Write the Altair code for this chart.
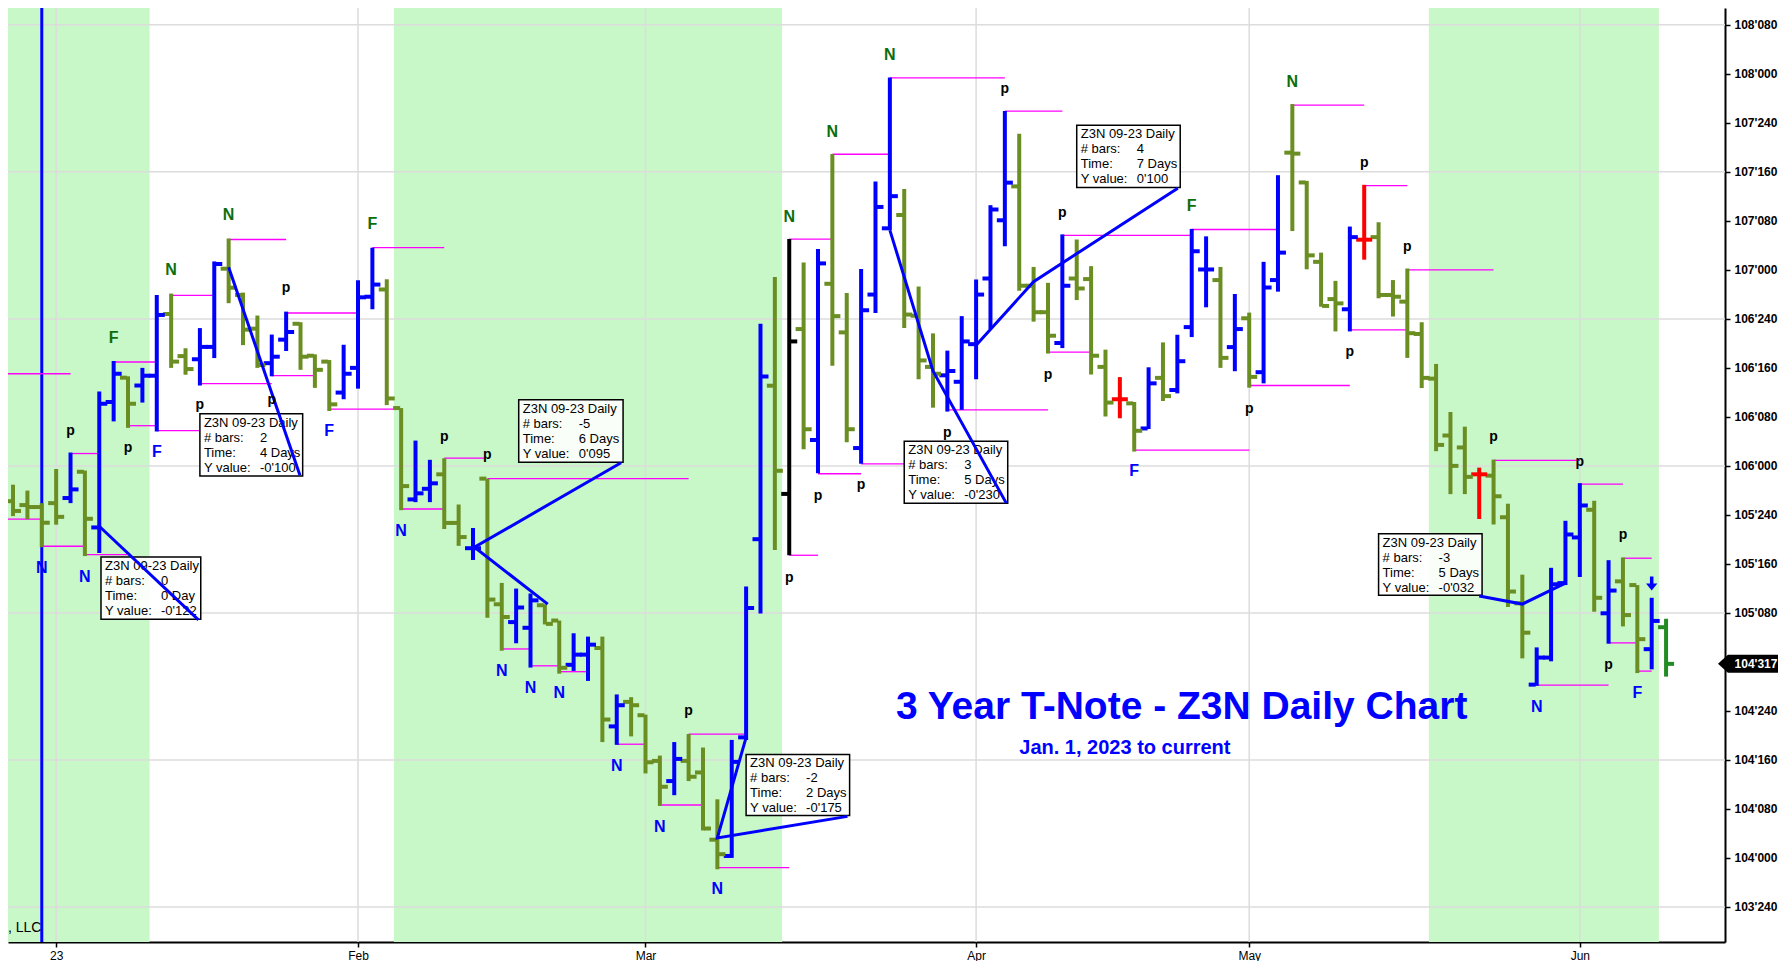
import altair as alt
import pandas as pd

# ---------------- data ----------------
opens = [105.82, 105.80, 105.79, 105.81, 105.836, 105.97, 105.686, 106.326, 106.45, 106.41,
         106.46, 106.775, 106.56, 106.544, 106.607, 107.006, 106.872, 106.70, 106.524, 106.644,
         106.725, 106.562, 106.532, 106.374, 106.5, 106.863, 106.9, 106.295, 105.829, 105.883,
         105.957, 105.709, 105.58, 105.935, 105.294, 105.203, 105.174, 105.289, 105.211, 104.985,
         105.037, 105.071, 104.671, 104.796, 104.728, 104.495, 104.392, 104.495, 104.436, 104.093,
         104.01, 104.615, 105.626, 106.409, 105.857, 106.698, 106.132, 106.929, 106.681, 106.091,
         106.874, 107.212, 107.28, 106.766, 106.505, 106.462, 106.429, 106.621, 106.956, 107.253,
         107.426, 106.919, 106.784, 106.627, 106.956, 106.953, 106.505, 106.34, 106.319, 106.191,
         106.449, 106.387, 106.708, 107.002, 106.948, 106.606, 106.753, 106.478, 106.948, 107.598,
         107.446, 107.041, 106.851, 106.799, 107.154, 107.167, 106.872, 106.838, 106.673, 106.445,
         106.155, 106.094, 105.957, 105.95, 105.738, 105.299, 104.884, 105.022, 105.402, 105.635,
         105.776, 105.248, 105.411, 105.392, 105.065, 105.177]
highs = [105.904, 105.874, 105.81, 105.984, 106.068, 105.976, 106.38, 106.535, 106.457, 106.50,
         106.872, 106.879, 106.6, 106.703, 107.043, 107.16, 106.884, 106.767, 106.67, 106.787,
         106.733, 106.569, 106.54, 106.618, 106.947, 107.113, 106.952, 106.295, 106.129, 106.031,
         106.039, 105.803, 105.683, 105.935, 105.403, 105.374, 105.349, 105.294, 105.211, 105.146,
         105.129, 105.129, 104.834, 104.82, 104.731, 104.522, 104.591, 104.632, 104.563, 104.299,
         104.602, 105.385, 106.725, 106.964, 107.157, 107.038, 107.107, 107.591, 106.882, 107.005,
         107.451, 107.981, 107.412, 106.915, 106.676, 106.588, 106.764, 106.951, 107.33, 107.81,
         107.694, 107.015, 106.934, 107.181, 107.155, 107.019, 106.593, 106.453, 106.326, 106.503,
         106.63, 106.669, 107.209, 107.171, 107.015, 106.877, 106.782, 107.041, 107.483, 107.846,
         107.454, 107.088, 106.944, 107.221, 107.434, 107.243, 106.948, 107.007, 106.733, 106.52,
         106.275, 106.2, 105.991, 106.032, 105.807, 105.445, 105.074, 105.48, 105.72, 105.912,
         105.822, 105.519, 105.533, 105.392, 105.327, 105.22]
lows = [105.744, 105.728, 105.585, 105.70, 105.81, 105.54, 105.555, 106.227, 106.194, 106.323,
        106.175, 106.50, 106.465, 106.41, 106.55, 106.83, 106.616, 106.50, 106.457, 106.586,
        106.49, 106.398, 106.28, 106.34, 106.394, 106.799, 106.31, 105.774, 105.815, 105.815,
        105.678, 105.592, 105.52, 105.225, 105.057, 105.095, 104.971, 105.191, 104.94, 104.954,
        104.903, 104.591, 104.577, 104.62, 104.431, 104.265, 104.32, 104.392, 104.14, 103.942,
        104.0, 104.602, 105.247, 105.571, 105.544, 106.085, 105.962, 106.511, 106.121, 106.011,
        106.78, 107.203, 106.703, 106.442, 106.297, 106.277, 106.286, 106.442, 106.698, 107.121,
        106.894, 106.736, 106.573, 106.601, 106.846, 106.466, 106.252, 106.243, 106.073, 106.188,
        106.331, 106.37, 106.657, 106.809, 106.5, 106.483, 106.399, 106.421, 106.889, 107.198,
        107.003, 106.812, 106.686, 106.686, 107.052, 106.855, 106.762, 106.551, 106.397, 106.075,
        105.856, 105.856, 105.729, 105.701, 105.28, 105.018, 104.878, 105.003, 105.392, 105.433,
        105.256, 105.093, 105.181, 104.943, 104.962, 104.925]
closes = [105.77, 105.79, 105.71, 105.74, 105.88, 105.73, 106.317, 106.47, 106.317, 106.46,
          106.77, 106.532, 106.494, 106.607, 107.03, 106.909, 106.695, 106.515, 106.557, 106.683,
          106.557, 106.49, 106.314, 106.47, 106.86, 106.925, 106.344, 105.897, 105.86, 105.911,
          105.709, 105.637, 105.58, 105.318, 105.229, 105.277, 105.314, 105.194, 104.97, 105.037,
          105.088, 104.706, 104.779, 104.779, 104.488, 104.363, 104.505, 104.414, 104.15, 104.019,
          104.49, 105.275, 106.456, 105.975, 106.635, 106.187, 107.033, 106.764, 106.187, 106.794,
          107.321, 107.376, 106.772, 106.538, 106.47, 106.484, 106.635, 106.874, 107.308, 107.445,
          106.919, 106.784, 106.664, 106.919, 106.905, 106.562, 106.323, 106.34, 106.179, 106.421,
          106.356, 106.534, 107.095, 107.002, 106.551, 106.698, 106.454, 106.91, 107.088, 107.593,
          107.074, 106.816, 106.829, 107.167, 107.154, 106.872, 106.863, 106.677, 106.449, 106.107,
          106.0, 105.944, 105.957, 105.845, 105.359, 105.149, 105.022, 105.396, 105.65, 105.798,
          105.327, 105.364, 105.239, 105.116, 105.209, 104.99]
# bar kind: U up, D down, R doji (red), K key bar (black), L last bar
kind_codes = list("DDDDUDUUDU" "UDDUUDDDUU" "DDDUUUDDUU" "DDUDDUUDDU" "UDUDDDUDDD"
                  "UUUDKDUDDU" "UUDDDUUUUU" "DDDUDDDRDU" "DUUUDUDUUD" "DDDURDDDDD"
                  "DDRDDDUUUU" "DUDDUL")

# month tick positions (bar index) and labels
month_ticks = [3, 24, 44, 67, 86, 109]
month_labels = ["23", "Feb", "Mar", "Apr", "May", "Jun"]

# shaded time windows (bar index ranges)
band_start = [-0.35, 26.5, 98.5]
band_end = [9.5, 53.5, 114.5]

# price levels for horizontal grid and axis ticks
grid_levels = [103.75, 104.5, 105.25, 106.0, 106.75, 107.5, 108.25]
tick_levels = [103.75, 104.0, 104.25, 104.5, 104.75, 105.25, 105.5, 105.75, 106.0,
               106.25, 106.5, 106.75, 107.0, 107.25, 107.5, 107.75, 108.0, 108.25]

cursor_bar = [2]

# magenta level lines: start bar, end bar, price
mag_i1 = [-0.35, -0.35, 2, 5, 4, 7, 8, 10, 11, 15, 13, 18, 19, 22, 25, 27, 30, 33, 34, 36,
          38, 42, 45, 47, 49, 54, 54, 56, 59, 57, 61, 65, 69, 73, 72, 78, 82, 86, 89, 94,
          93, 97, 103, 109, 112, 111, 113, 106]
mag_i2 = [4, 2, 5, 8, 6, 10, 10, 13, 14, 19, 18, 21, 24, 27, 30, 30, 32.8, 47, 36, 38,
          40, 44, 48, 51, 54, 57, 56, 59, 62, 61, 69, 72, 73, 82, 75, 86, 88, 93, 94, 97,
          97, 103, 109, 112, 114, 113, 114, 111]
mag_p = [106.47, 105.728, 105.59, 105.547, 106.063, 106.53, 106.205, 106.18, 106.87, 107.155,
         106.42, 106.46, 106.78, 106.29, 107.113, 105.78, 106.04, 105.935, 105.066, 104.98,
         104.95, 104.58, 104.27, 104.632, 103.95, 107.157, 105.544, 105.96, 106.01, 107.59,
         107.98, 106.286, 107.81, 107.176, 106.58, 106.08, 107.206, 106.41, 107.84, 107.43,
         106.694, 107.0, 106.028, 105.907, 105.529, 105.097, 104.953, 104.882]

# measurement lines (id, bar, price)
line_id = [1, 1, 2, 2, 3, 3, 3, 4, 4, 4, 5, 5, 5, 6, 6, 6, 7, 7, 7]
line_i = [6, 12.9, 15, 19.96, 42.3, 32.1, 37.2, 51, 49, 58.05, 61, 64, 69.1,
          67, 71, 81.03, 102.0, 105, 108]
line_p = [105.692, 105.214, 107.013, 105.952, 106.016, 105.585, 105.295, 104.615, 104.102,
          104.212, 107.203, 106.484, 105.81, 106.615, 106.94, 107.417, 105.336, 105.295, 105.402]

# measurement boxes
box_i1 = [6.12, 13.0, 35.18, 51.0, 62.0, 74.0, 95.0]
box_i2 = [13.06, 20.15, 42.44, 58.2, 69.2, 81.2, 102.2]
box_top = [105.535, 106.266, 106.338, 104.528, 106.126, 107.738, 105.654]
box_bot = [105.218, 105.948, 106.018, 104.217, 105.81, 107.42, 105.34]
box_bars = ["0", "2", "-5", "-2", "3", "4", "-3"]
box_time = ["0 Day", "4 Days", "6 Days", "2 Days", "5 Days", "7 Days", "5 Days"]
box_yval = ["-0'122", "-0'100", "0'095", "-0'175", "-0'230", "0'100", "-0'032"]

# pivot labels: bar, price, text, kind (hi = above high, lo = below low, piv = pivot)
lab_i = [2, 5, 4, 7, 8, 10, 11, 13, 15, 19, 18, 22, 25, 27, 30, 33, 34, 36, 38, 42,
         47, 45, 49, 54, 54, 57, 56, 59, 61, 65, 69, 73, 72, 78, 82, 86, 89, 94, 93, 97,
         103, 109, 106, 112, 111, 113]
lab_p = [105.479, 105.433, 106.176, 106.654, 106.09, 106.072, 107.0, 106.309, 107.282, 106.908,
         106.338, 106.176, 107.236, 105.67, 106.147, 106.055, 104.955, 104.869, 104.84, 104.471,
         104.748, 104.16, 103.843, 107.27, 105.427, 107.703, 105.848, 105.9, 108.094, 106.17,
         107.922, 107.288, 106.464, 105.975, 107.328, 106.291, 107.956, 107.547, 106.58, 107.115,
         106.147, 106.021, 104.771, 105.646, 104.984, 104.84]
lab_t = ["N", "N", "p", "F", "p", "F", "N", "p", "N", "p", "p", "F", "F", "N", "p", "p", "N", "N",
         "N", "N", "p", "N", "N", "N", "p", "N", "p", "p", "N", "p", "p", "p", "p", "F", "F", "p",
         "N", "p", "p", "p", "p", "p", "N", "p", "p", "F"]
lab_k = ["lo", "lo", "piv", "hi", "piv", "lo", "hi", "piv", "hi", "piv", "piv", "lo", "hi", "lo",
         "piv", "piv", "lo", "lo", "lo", "lo", "piv", "lo", "lo", "hi", "piv", "hi", "piv", "piv",
         "hi", "piv", "piv", "piv", "piv", "lo", "hi", "piv", "hi", "piv", "piv", "piv", "piv",
         "piv", "lo", "piv", "piv", "lo"]

title_text = "3 Year T-Note - Z3N Daily Chart"
subtitle_text = "Jan. 1, 2023 to current"
credit_text = ", LLC"

# ---------------- frames ----------------
bars = pd.DataFrame({"i": list(range(len(opens))), "o": opens, "h": highs, "l": lows,
                     "c": closes, "kind": kind_codes})
bands = pd.DataFrame({"a": band_start, "b": band_end})
grid_h = pd.DataFrame({"lvl": grid_levels})
grid_v = pd.DataFrame({"m": month_ticks})
cursor = pd.DataFrame({"i": cursor_bar})
mag = pd.DataFrame({"i1": mag_i1, "i2": mag_i2, "p": mag_p})
lines = pd.DataFrame({"lid": line_id, "i": line_i, "p": line_p,
                      "seq": list(range(len(line_i)))})
boxes = pd.DataFrame({"i1": box_i1, "i2": box_i2, "top": box_top, "bot": box_bot})
boxes["lab"] = "Z3N 09-23 Daily\n# bars:\nTime:\nY value:"
boxes["val"] = ["\n" + b + "\n" + t + "\n" + y for b, t, y in zip(box_bars, box_time, box_yval)]
labels = pd.DataFrame({"i": lab_i, "p": lab_p, "t": lab_t, "k": lab_k})
titles = pd.DataFrame({"i": [81.3], "p": [104.709], "t": [title_text]})
subtitles = pd.DataFrame({"i": [77.35], "p": [104.532], "t": [subtitle_text]})
credit = pd.DataFrame({"i": [-0.35], "p": [103.642], "t": [credit_text]})
last_c = closes[-1]
last_txt = f"{int(last_c)}'{int(round((last_c - int(last_c)) * 320)):03d}"
last = pd.DataFrame({"p": [last_c], "t": [last_txt]})
arrow = pd.DataFrame({"i": [114], "p": [105.40]})

# ---------------- scales / axes ----------------
W, H = 1717, 934
xs = alt.Scale(domain=[-0.35, 119.1], nice=False, zero=False)
ys = alt.Scale(domain=[103.571, 108.336], nice=False, zero=False)
FONT = "Liberation Sans"

xlab = "''"
for v, s in reversed(list(zip(month_ticks, month_labels))):
    xlab = f"datum.value == {v} ? '{s}' : ({xlab})"
f = "round((datum.value - floor(datum.value)) * 320)"
ylab = f"floor(datum.value) + \"'\" + ({f} < 10 ? '00' : ({f} < 100 ? '0' : '')) + {f}"

x_axis = alt.Axis(orient="bottom", values=month_ticks, labelExpr=xlab, grid=False,
                  domainColor="black", domainWidth=2, tickColor="black", tickSize=5,
                  tickWidth=1.5, labelFont=FONT, labelFontSize=12, labelColor="black",
                  labelPadding=3, title=None)
y_axis = alt.Axis(orient="right", values=tick_levels, labelExpr=ylab, grid=False,
                  domainColor="black", domainWidth=2, tickColor="black", tickSize=5,
                  tickWidth=1.5, labelFont=FONT, labelFontSize=12, labelFontWeight="bold",
                  labelColor="black", labelPadding=4, title=None)

cdom = ["U", "D", "R", "K", "L", "hi", "lo", "piv"]
crng = ["#0000ff", "#6b8e23", "#ff0000", "#000000", "#228b22", "#0b6e0b", "#0000ff", "#000000"]
cscale = alt.Scale(domain=cdom, range=crng)


def X(fld):
    return alt.X(fld, scale=xs, axis=x_axis)


def Y(fld):
    return alt.Y(fld, scale=ys, axis=y_axis)


band_layer = alt.Chart(bands).mark_rect(color="#c8f7c8").encode(
    x=X("a:Q"), x2="b:Q", y=alt.value(0), y2=alt.value(H))

gh_layer = alt.Chart(grid_h).mark_rule(color="#dcdcdc", strokeWidth=1.5).encode(
    y=Y("lvl:Q"), x=alt.value(0), x2=alt.value(W))
gv_layer = alt.Chart(grid_v).mark_rule(color="#dcdcdc", strokeWidth=1.5).encode(
    x=X("m:Q"), y=alt.value(0), y2=alt.value(H))

cursor_layer = alt.Chart(cursor).mark_rule(color="#0000ff", strokeWidth=3).encode(
    x=X("i:Q"), y=alt.value(0), y2=alt.value(H))

mag_layer = alt.Chart(mag).mark_rule(color="#ff00ff", strokeWidth=1.3).encode(
    x=X("i1:Q"), x2="i2:Q", y=Y("p:Q"))

col = alt.Color("kind:N", scale=cscale, legend=None)
hl_layer = alt.Chart(bars).mark_rule(strokeWidth=4).encode(
    x=X("i:Q"), y=Y("l:Q"), y2="h:Q", color=col)
open_layer = alt.Chart(bars).mark_tick(orient="horizontal", size=7, thickness=4,
                                       xOffset=-4.5, opacity=1).encode(
    x=X("i:Q"), y=Y("o:Q"), color=col)
close_layer = alt.Chart(bars).mark_tick(orient="horizontal", size=7, thickness=4,
                                        xOffset=4.5, opacity=1).encode(
    x=X("i:Q"), y=Y("c:Q"), color=col)

box_layer = alt.Chart(boxes).mark_rect(fill="white", fillOpacity=0.88, stroke="black",
                                       strokeWidth=1.5).encode(
    x=X("i1:Q"), x2="i2:Q", y=Y("top:Q"), y2="bot:Q")
box_lab = alt.Chart(boxes).mark_text(align="left", baseline="top", dx=4, dy=3, fontSize=13,
                                     font=FONT, lineBreak="\n", lineHeight=15,
                                     color="black").encode(
    x=X("i1:Q"), y=Y("top:Q"), text="lab:N")
box_val = alt.Chart(boxes).mark_text(align="left", baseline="top", dx=60, dy=3, fontSize=13,
                                     font=FONT, lineBreak="\n", lineHeight=15,
                                     color="black").encode(
    x=X("i1:Q"), y=Y("top:Q"), text="val:N")

line_layer = alt.Chart(lines).mark_line(color="#0000ff", strokeWidth=3).encode(
    x=X("i:Q"), y=Y("p:Q"), detail="lid:N", order="seq:Q")

lcol = alt.Color("k:N", scale=cscale, legend=None)
nf_layer = alt.Chart(labels).transform_filter("datum.t != 'p'").mark_text(
    fontSize=16, fontWeight="bold", font=FONT, align="center", baseline="middle").encode(
    x=X("i:Q"), y=Y("p:Q"), text="t:N", color=lcol)
p_layer = alt.Chart(labels).transform_filter("datum.t == 'p'").mark_text(
    fontSize=14, fontWeight="bold", font=FONT, align="center", baseline="middle").encode(
    x=X("i:Q"), y=Y("p:Q"), text="t:N", color=lcol)

title_layer = alt.Chart(titles).mark_text(fontSize=39, fontWeight="bold", font=FONT,
                                          color="#0000ff", align="center",
                                          baseline="alphabetic").encode(
    x=X("i:Q"), y=Y("p:Q"), text="t:N")
sub_layer = alt.Chart(subtitles).mark_text(fontSize=20, fontWeight="bold", font=FONT,
                                           color="#0000ff", align="center",
                                           baseline="alphabetic").encode(
    x=X("i:Q"), y=Y("p:Q"), text="t:N")
credit_layer = alt.Chart(credit).mark_text(fontSize=14, font=FONT, color="black",
                                           align="left", baseline="middle").encode(
    x=X("i:Q"), y=Y("p:Q"), text="t:N")

arrow_layer = alt.Chart(arrow).mark_point(
    shape="M -0.25 -1 L 0.25 -1 L 0.25 0 L 0.8 0 L 0 1 L -0.8 0 L -0.25 0 Z",
    size=200, filled=True, color="#0000ff", opacity=1, strokeWidth=0).encode(
    x=X("i:Q"), y=Y("p:Q"))

marker_layer = alt.Chart(last).mark_point(
    shape="M -1 0 L -0.67 -0.3 L 1 -0.3 L 1 0.3 L -0.67 0.3 Z",
    size=3600, filled=True, color="black", opacity=1, strokeWidth=0).encode(
    x=alt.value(1740), y=Y("p:Q"))
marker_text = alt.Chart(last).mark_text(fontSize=12, fontWeight="bold", font=FONT,
                                        color="white", align="center",
                                        baseline="middle").encode(
    x=alt.value(1748), y=Y("p:Q"), text="t:N")

chart = alt.layer(
    band_layer, gh_layer, gv_layer, cursor_layer, mag_layer,
    hl_layer, open_layer, close_layer,
    box_layer, box_lab, box_val, line_layer,
    nf_layer, p_layer, title_layer, sub_layer, credit_layer,
    arrow_layer, marker_layer, marker_text
).properties(
    width=W, height=H,
    padding={"left": 0, "top": 0, "right": 53, "bottom": 19},
    autosize=alt.AutoSizeParams(type="none"),
    background="white",
).configure_view(strokeWidth=0)

chart.save("out.html", embed_options={"renderer": "svg", "actions": False})
